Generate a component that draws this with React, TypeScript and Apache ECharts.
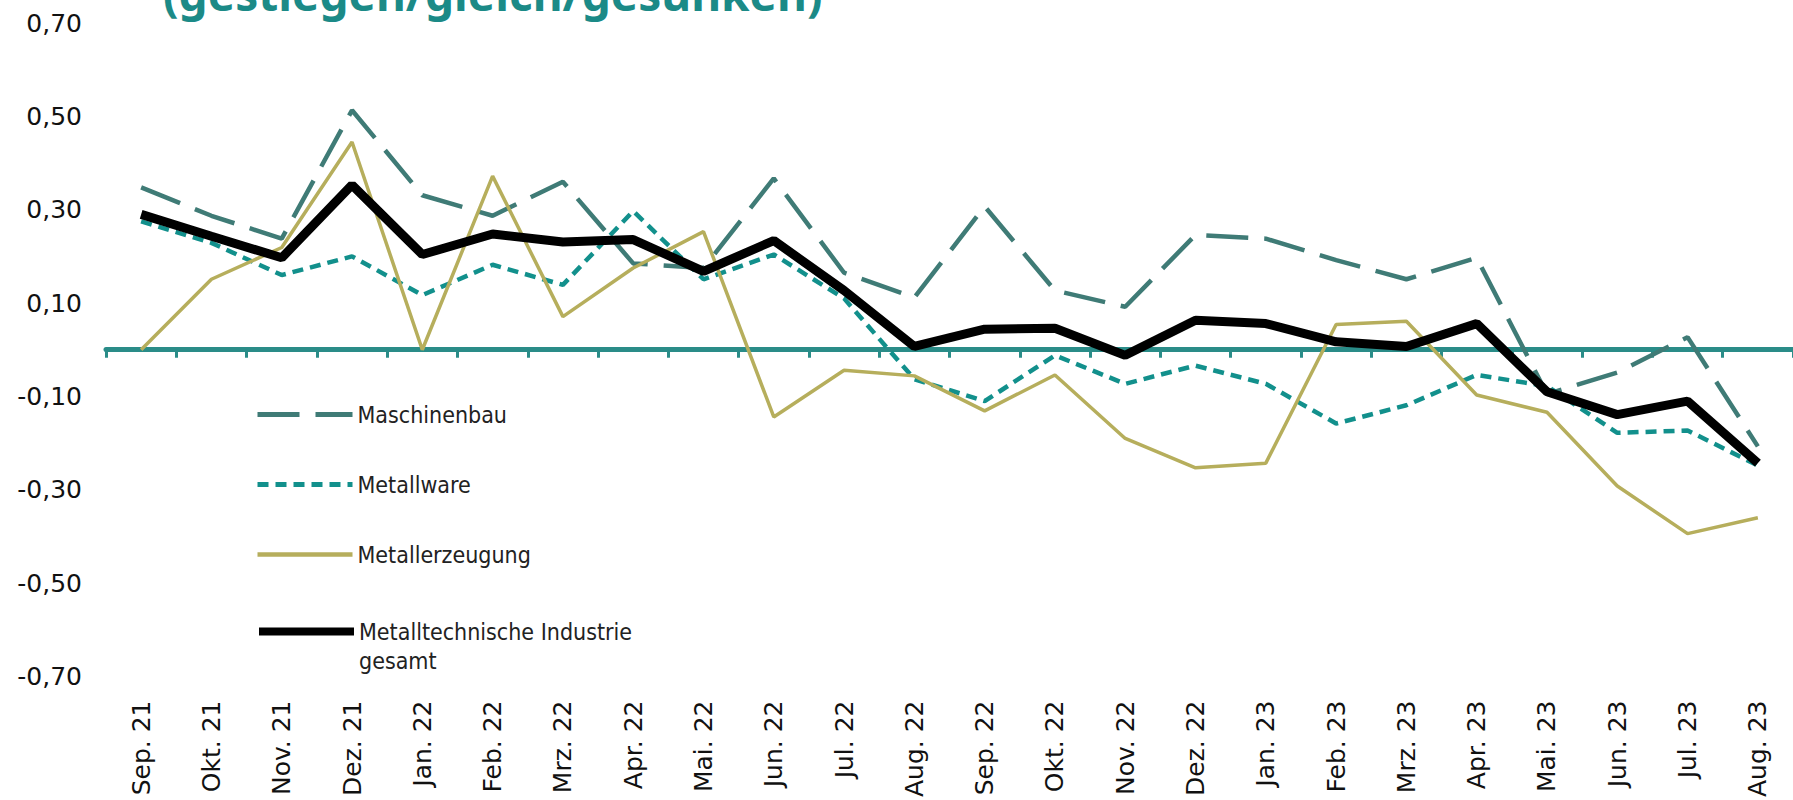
import React, { useEffect, useRef } from "react";
import * as echarts from "echarts";

const categories = [
  "Sep. 21", "Okt. 21", "Nov. 21", "Dez. 21", "Jan. 22", "Feb. 22", "Mrz. 22", "Apr. 22",
  "Mai. 22", "Jun. 22", "Jul. 22", "Aug. 22", "Sep. 22", "Okt. 22", "Nov. 22", "Dez. 22",
  "Jan. 23", "Feb. 23", "Mrz. 23", "Apr. 23", "Mai. 23", "Jun. 23", "Jul. 23", "Aug. 23",
];

const maschinenbau = [
  0.348, 0.287, 0.238, 0.513, 0.331, 0.287, 0.36, 0.185, 0.175, 0.367, 0.165, 0.112,
  0.307, 0.127, 0.092, 0.246, 0.238, 0.192, 0.151, 0.197, -0.095, -0.049, 0.027, -0.207,
];
const metallware = [
  0.275, 0.229, 0.16, 0.2, 0.117, 0.182, 0.139, 0.297, 0.151, 0.204, 0.11, -0.063,
  -0.11, -0.012, -0.073, -0.034, -0.073, -0.158, -0.119, -0.054, -0.078, -0.178, -0.173, -0.248,
];
const metallerzeugung = [
  0.0, 0.151, 0.219, 0.445, 0.0, 0.372, 0.071, 0.175, 0.253, -0.144, -0.044, -0.056,
  -0.131, -0.054, -0.19, -0.253, -0.243, 0.054, 0.061, -0.097, -0.134, -0.292, -0.394, -0.36,
];
const gesamt = [
  0.29, 0.243, 0.197, 0.353, 0.204, 0.248, 0.231, 0.236, 0.168, 0.234, 0.127, 0.007,
  0.044, 0.046, -0.012, 0.063, 0.056, 0.017, 0.007, 0.056, -0.09, -0.139, -0.11, -0.243,
];

const seriesNames = [
  "Maschinenbau",
  "Metallware",
  "Metallerzeugung",
  "Metalltechnische Industrie\ngesamt",
];

const titleText = "(gestiegen/gleich/gesunken)";

const colors = ["#3f7b76", "#12908c", "#b6ae5c", "#000000"];
const dashes: any[] = [[42, 16], [11, 7], "solid", "solid"];
const widths = [4.5, 4.5, 3.5, 9];
const legendWidths = [5, 5, 4.5, 8];

export default function App() {
  const ref = useRef<HTMLDivElement>(null);

  useEffect(() => {
    document.body.style.margin = "0";
    const chart = echarts.init(ref.current!, null, { renderer: "svg" });
    const axisColor = "#2a8c88";
    const legendText = {
      fontFamily: "DejaVu Sans Condensed",
      fontSize: 23,
      color: "#222",
      lineHeight: 29,
    };
    const legendItem = (i: number) => ({
      name: seriesNames[i],
      lineStyle: { width: legendWidths[i], type: dashes[i], color: colors[i] },
    });
    chart.setOption({
      animation: false,
      backgroundColor: "#ffffff",
      graphic: [
        {
          type: "text",
          x: 163,
          y: 16,
          style: {
            text: titleText,
            fontFamily: "Noto Sans",
            fontWeight: "bold",
            fontSize: 46,
            fill: "#1b8a87",
            verticalAlign: "bottom",
          },
        },
      ],
      legend: [
        {
          orient: "vertical",
          left: 250,
          top: 395,
          itemWidth: 95,
          itemHeight: 14,
          itemGap: 41,
          itemStyle: { opacity: 0 },
          textStyle: legendText,
          data: [legendItem(0), legendItem(1), legendItem(2)],
        },
        {
          orient: "vertical",
          left: 250,
          top: 583,
          itemWidth: 95,
          itemHeight: 14,
          itemStyle: { opacity: 0 },
          textStyle: legendText,
          formatter: (name: string) => "\n" + name,
          data: [legendItem(3)],
        },
      ],
      grid: { left: 106, top: 23, width: 1707, height: 658 },
      xAxis: [
        {
          type: "category",
          data: categories,
          position: "bottom",
          boundaryGap: true,
          axisLine: { onZero: true, lineStyle: { color: axisColor, width: 5 } },
          axisTick: { show: true, length: 8, lineStyle: { color: axisColor, width: 3 } },
          axisLabel: { show: false },
          splitLine: { show: false },
        },
        {
          type: "category",
          data: categories,
          position: "bottom",
          boundaryGap: true,
          axisLine: { show: false, onZero: false },
          axisTick: { show: false },
          axisLabel: {
            show: true,
            interval: 0,
            rotate: 90,
            margin: 24,
            fontFamily: "DejaVu Sans",
            fontSize: 25,
            color: "#111",
          },
          splitLine: { show: false },
        },
      ],
      yAxis: {
        type: "value",
        min: -0.7,
        max: 0.7,
        interval: 0.1,
        axisLine: { show: false },
        axisTick: { show: false },
        splitLine: { show: false },
        axisLabel: {
          margin: 24,
          fontFamily: "DejaVu Sans",
          fontSize: 25,
          color: "#111",
          formatter: (v: number) => {
            const t = Math.round(v * 10);
            if (Math.abs(t) % 2 !== 1) return "";
            return (t / 10).toFixed(2).replace(".", ",");
          },
        },
      },
      series: [maschinenbau, metallware, metallerzeugung, gesamt].map((d, i) => ({
        name: seriesNames[i],
        type: "line",
        data: d,
        symbol: "none",
        lineStyle: { color: colors[i], width: widths[i], type: dashes[i] },
        itemStyle: { color: colors[i] },
      })),
    });
    return () => chart.dispose();
  }, []);

  return <div ref={ref} style={{ width: 1793, height: 800 }} />;
}
